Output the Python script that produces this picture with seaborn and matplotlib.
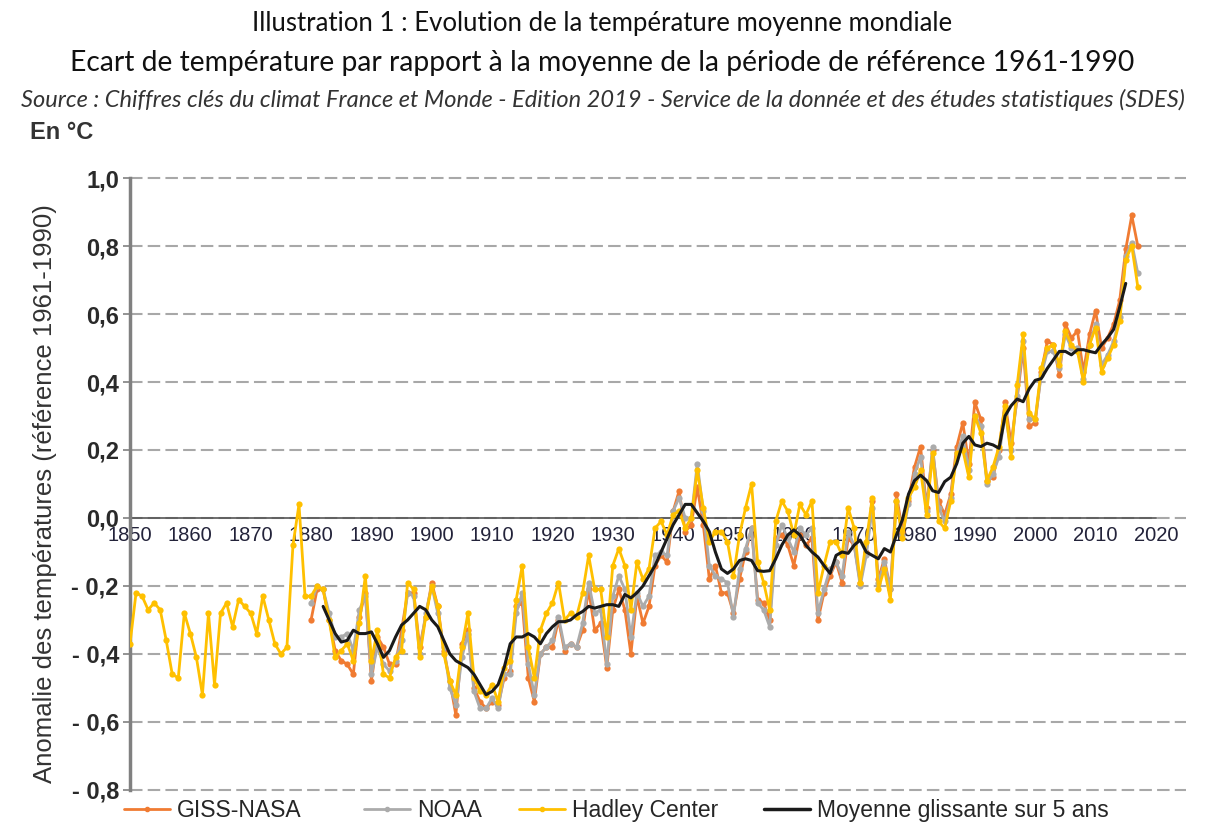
import numpy as np
import pandas as pd
import seaborn as sns
import matplotlib.pyplot as plt
from matplotlib.lines import Line2D

# Anomalies de température (°C, référence 1961-1990)
annees_hadley = list(range(1850, 2018))
hadley = [
    -0.37, -0.22, -0.23, -0.27, -0.25, -0.27, -0.36, -0.46, -0.47, -0.28,  # 1850
    -0.34, -0.41, -0.52, -0.28, -0.49, -0.28, -0.25, -0.32, -0.24, -0.26,  # 1860
    -0.28, -0.34, -0.23, -0.30, -0.37, -0.40, -0.38, -0.08, 0.04, -0.23,   # 1870
    -0.23, -0.20, -0.21, -0.30, -0.41, -0.39, -0.37, -0.42, -0.31, -0.17,  # 1880
    -0.42, -0.33, -0.46, -0.47, -0.41, -0.39, -0.19, -0.21, -0.41, -0.29,  # 1890
    -0.20, -0.26, -0.40, -0.48, -0.52, -0.38, -0.28, -0.47, -0.51, -0.52,  # 1900
    -0.49, -0.54, -0.44, -0.42, -0.24, -0.14, -0.38, -0.47, -0.33, -0.28,  # 1910
    -0.25, -0.19, -0.30, -0.28, -0.29, -0.22, -0.11, -0.21, -0.21, -0.35,  # 1920
    -0.14, -0.09, -0.14, -0.27, -0.13, -0.18, -0.15, -0.03, -0.01, -0.05,  # 1930
    0.01, 0.02, -0.03, 0.00, 0.14, 0.03, -0.07, -0.04, -0.04, -0.07,       # 1940
    -0.17, -0.05, 0.03, 0.10, -0.13, -0.19, -0.27, -0.01, 0.05, 0.02,      # 1950
    -0.05, 0.04, 0.01, 0.05, -0.22, -0.14, -0.07, -0.07, -0.11, 0.03,      # 1960
    -0.03, -0.19, -0.07, 0.06, -0.21, -0.15, -0.24, 0.05, -0.06, 0.06,     # 1970
    0.09, 0.14, 0.01, 0.19, -0.01, -0.03, 0.05, 0.19, 0.20, 0.12,          # 1980
    0.30, 0.25, 0.11, 0.15, 0.21, 0.33, 0.18, 0.39, 0.54, 0.31,            # 1990
    0.29, 0.44, 0.50, 0.51, 0.45, 0.55, 0.51, 0.49, 0.40, 0.51,            # 2000
    0.56, 0.43, 0.47, 0.51, 0.58, 0.76, 0.80, 0.68,                        # 2010
]

annees_giss_noaa = list(range(1880, 2018))
giss_nasa = [
    -0.30, -0.21, -0.21, -0.30, -0.39, -0.42, -0.43, -0.46, -0.29, -0.22,  # 1880
    -0.48, -0.35, -0.38, -0.43, -0.43, -0.33, -0.22, -0.22, -0.38, -0.29,  # 1890
    -0.19, -0.26, -0.39, -0.48, -0.58, -0.37, -0.33, -0.50, -0.54, -0.56,  # 1900
    -0.54, -0.55, -0.47, -0.45, -0.26, -0.25, -0.47, -0.54, -0.40, -0.38,  # 1910
    -0.38, -0.30, -0.39, -0.37, -0.38, -0.33, -0.21, -0.33, -0.31, -0.44,  # 1920
    -0.27, -0.21, -0.27, -0.40, -0.23, -0.31, -0.26, -0.14, -0.11, -0.13,  # 1930
    0.02, 0.08, -0.04, -0.02, 0.09, -0.02, -0.18, -0.14, -0.22, -0.22,     # 1940
    -0.28, -0.18, -0.10, -0.03, -0.24, -0.25, -0.30, -0.06, -0.05, -0.08,  # 1950
    -0.14, -0.05, -0.08, -0.06, -0.30, -0.22, -0.17, -0.13, -0.19, -0.06,  # 1960
    -0.08, -0.19, -0.10, 0.05, -0.18, -0.12, -0.21, 0.07, -0.04, 0.05,     # 1970
    0.15, 0.21, 0.03, 0.20, 0.05, 0.01, 0.07, 0.21, 0.28, 0.16,            # 1980
    0.34, 0.29, 0.11, 0.12, 0.20, 0.34, 0.22, 0.35, 0.50, 0.27,            # 1990
    0.28, 0.43, 0.52, 0.51, 0.42, 0.57, 0.53, 0.55, 0.43, 0.54,            # 2000
    0.61, 0.50, 0.53, 0.57, 0.64, 0.79, 0.89, 0.80,                        # 2010
]
noaa = [
    -0.25, -0.20, -0.21, -0.28, -0.35, -0.35, -0.34, -0.39, -0.27, -0.23,  # 1880
    -0.46, -0.38, -0.43, -0.45, -0.42, -0.36, -0.22, -0.23, -0.40, -0.28,  # 1890
    -0.20, -0.28, -0.38, -0.50, -0.55, -0.41, -0.34, -0.51, -0.56, -0.56,  # 1900
    -0.53, -0.56, -0.46, -0.46, -0.28, -0.22, -0.43, -0.52, -0.40, -0.38,  # 1910
    -0.36, -0.29, -0.38, -0.37, -0.38, -0.31, -0.19, -0.28, -0.27, -0.43,  # 1920
    -0.23, -0.17, -0.21, -0.35, -0.22, -0.26, -0.23, -0.11, -0.10, -0.11,  # 1930
    0.02, 0.06, 0.00, 0.00, 0.16, 0.02, -0.14, -0.17, -0.18, -0.19,        # 1940
    -0.29, -0.15, -0.09, -0.03, -0.25, -0.27, -0.32, -0.08, -0.02, -0.06,  # 1950
    -0.10, -0.03, -0.05, -0.03, -0.28, -0.21, -0.15, -0.13, -0.17, -0.04,  # 1960
    -0.08, -0.20, -0.11, 0.03, -0.19, -0.13, -0.21, 0.05, -0.05, 0.04,     # 1970
    0.13, 0.18, 0.02, 0.21, 0.03, -0.01, 0.06, 0.19, 0.24, 0.14,           # 1980
    0.30, 0.27, 0.10, 0.13, 0.18, 0.31, 0.20, 0.36, 0.52, 0.29,            # 1990
    0.29, 0.42, 0.49, 0.49, 0.44, 0.54, 0.50, 0.50, 0.41, 0.51,            # 2000
    0.57, 0.45, 0.48, 0.52, 0.59, 0.77, 0.81, 0.72,                        # 2010
]

annees_moyenne = list(range(1882, 2016))
moyenne_5ans = [
    -0.26, -0.30, -0.34, -0.365, -0.36, -0.33, -0.34, -0.34,               # 1882
    -0.335, -0.37, -0.41, -0.39, -0.35, -0.315, -0.30, -0.28, -0.26, -0.27,  # 1890
    -0.30, -0.32, -0.36, -0.40, -0.42, -0.43, -0.44, -0.46, -0.49, -0.52,  # 1900
    -0.51, -0.49, -0.44, -0.37, -0.35, -0.35, -0.34, -0.35, -0.37, -0.34,  # 1910
    -0.32, -0.305, -0.305, -0.30, -0.285, -0.275, -0.26, -0.265, -0.26, -0.255,  # 1920
    -0.255, -0.26, -0.225, -0.235, -0.22, -0.20, -0.17, -0.14, -0.10, -0.06,  # 1930
    -0.02, 0.01, 0.04, 0.04, 0.015, -0.01, -0.04, -0.10, -0.15, -0.163,   # 1940
    -0.15, -0.125, -0.12, -0.125, -0.155, -0.157, -0.155, -0.12, -0.08, -0.05,  # 1950
    -0.035, -0.05, -0.08, -0.10, -0.115, -0.14, -0.163, -0.11, -0.10, -0.104,  # 1960
    -0.08, -0.065, -0.10, -0.11, -0.12, -0.09, -0.10, -0.05, -0.005, 0.07,  # 1970
    0.11, 0.126, 0.11, 0.08, 0.075, 0.107, 0.12, 0.16, 0.22, 0.24,         # 1980
    0.215, 0.21, 0.22, 0.215, 0.205, 0.30, 0.33, 0.35, 0.342, 0.38,        # 1990
    0.405, 0.41, 0.44, 0.465, 0.49, 0.49, 0.48, 0.495, 0.495, 0.49,        # 2000
    0.486, 0.51, 0.53, 0.555, 0.62, 0.69,                                  # 2010
]

series_noms = ['GISS-NASA', 'NOAA', 'Hadley Center', 'Moyenne glissante sur 5 ans']
couleurs = ['#F07B32', '#ABABAB', '#FFC000', '#1A1A1A']

x_ticks = list(range(1850, 2021, 10))
y_ticks = [1.0, 0.8, 0.6, 0.4, 0.2, 0.0, -0.2, -0.4, -0.6, -0.8]
y_tick_labels = ['1,0', '0,8', '0,6', '0,4', '0,2', '0,0', '- 0,2', '- 0,4', '- 0,6', '- 0,8']

titre1 = 'Illustration 1 : Evolution de la température moyenne mondiale'
titre2 = 'Ecart de température par rapport à la moyenne de la période de référence 1961-1990'
source = ('Source : Chiffres clés du climat France et Monde - Edition 2019 - '
          'Service de la donnée et des études statistiques (SDES)')

sns.set_theme(style='white')
plt.rcParams['font.family'] = ['Liberation Sans', 'DejaVu Sans']

fig = plt.figure(figsize=(12.05, 8.26), dpi=100)
ax = fig.add_axes([0.1079, 0.0354, 0.8764, 0.7573])

df_giss = pd.DataFrame({'annee': annees_giss_noaa, 'anomalie': giss_nasa})
df_noaa = pd.DataFrame({'annee': annees_giss_noaa, 'anomalie': noaa})
df_hadley = pd.DataFrame({'annee': annees_hadley, 'anomalie': hadley})
df_moy = pd.DataFrame({'annee': annees_moyenne, 'anomalie': moyenne_5ans})

style_pts = dict(marker='o', markersize=4.5, markeredgewidth=0, linewidth=2.0)
sns.lineplot(data=df_giss, x='annee', y='anomalie', ax=ax, color=couleurs[0], zorder=3, **style_pts)
sns.lineplot(data=df_noaa, x='annee', y='anomalie', ax=ax, color=couleurs[1], zorder=4, **style_pts)
sns.lineplot(data=df_hadley, x='annee', y='anomalie', ax=ax, color=couleurs[2], zorder=5, **style_pts)
sns.lineplot(data=df_moy, x='annee', y='anomalie', ax=ax, color=couleurs[3], linewidth=2.2, zorder=6)

ax.set_xlim(1850, 2025)
ax.set_ylim(-0.82, 1.02)

# grille horizontale pointillée
ax.set_yticks(y_ticks)
ax.set_yticklabels(y_tick_labels, fontsize=17, fontweight='bold', color='#2a2a2a')
ax.yaxis.grid(True, color='#A8A8A8', linewidth=1.5, linestyle=(0, (6, 2.5)))
ax.xaxis.grid(False)
ax.set_axisbelow(True)

for s in ['top', 'right']:
    ax.spines[s].set_visible(False)
ax.spines['left'].set_color('#808080')
ax.spines['left'].set_linewidth(2.5)
ax.spines['left'].set_bounds(-0.8, 1.0)
ax.spines['bottom'].set_position(('data', 0))
ax.spines['bottom'].set_bounds(1850, 2020)
ax.spines['bottom'].set_color('#555555')
ax.spines['bottom'].set_linewidth(1.2)
ax.spines['bottom'].set_zorder(2)

ax.set_xticks(x_ticks)
ax.set_xticklabels([str(a) for a in x_ticks], fontsize=14.5, color='#23233a')
ax.tick_params(axis='x', direction='out', length=5, width=1, color='#555555', pad=1)
ax.tick_params(axis='y', direction='out', length=5, width=1.2, color='#808080', pad=3, left=True)
ax.set_xlabel('')
ax.set_ylabel('')

fig.text(0.0375, 0.403, 'Anomalie des températures (référence 1961-1990)', rotation=90,
         ha='center', va='center', fontsize=18.5, color='#333333')
fig.text(0.025, 0.839, 'En °C', ha='left', va='center', fontsize=17, fontweight='bold', color='#333333')

fig.text(0.5, 0.972, titre1, ha='center', va='center', fontsize=18.5, family='Lato', color='#111111')
fig.text(0.5, 0.924, titre2, ha='center', va='center', fontsize=20.3, family='Lato', color='#111111')
fig.text(0.5, 0.879, source, ha='center', va='center', fontsize=17, family='Lato',
         style='italic', color='#333333')

# légende : quatre entrées placées comme sur l'original
handles = [Line2D([], [], color=couleurs[0], marker='o', markersize=3, linewidth=2),
           Line2D([], [], color=couleurs[1], marker='o', markersize=3, linewidth=2),
           Line2D([], [], color=couleurs[2], marker='o', markersize=3, linewidth=2),
           Line2D([], [], color=couleurs[3], linewidth=2.5)]
x_legende = [124, 364, 519, 764]
for h, nom, xp in zip(handles, series_noms, x_legende):
    fig.legend([h], [nom], loc='center left', bbox_to_anchor=(xp / 1205, 0.019),
               frameon=False, handlelength=2.0, handletextpad=0.3, borderpad=0, borderaxespad=0,
               prop={'size': 16.5})

fig.savefig('out.png', dpi=100)
